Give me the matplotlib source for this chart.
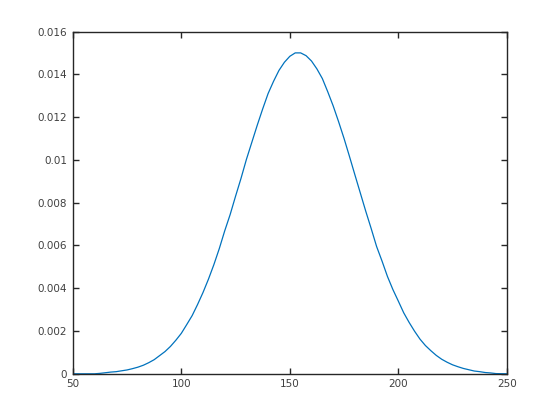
import matplotlib
matplotlib.use("Agg")
import matplotlib.pyplot as plt
from matplotlib.ticker import FuncFormatter

# values
x = [50, 55, 60, 62.5, 65, 67.5, 70, 72.5, 75, 77.5, 80, 82.5, 85, 87.5, 90,
     92.5, 95, 97.5, 100, 102.5, 105, 107.5, 110, 112.5, 115, 117.5, 120,
     122.5, 125, 127.5, 130, 132.5, 135, 137.5, 140, 142.5, 145, 147.5, 150,
     152.5, 155, 157.5, 160, 162.5, 165, 167.5, 170, 172.5, 175, 177.5, 180,
     182.5, 185, 187.5, 190, 192.5, 195, 197.5, 200, 202.5, 205, 207.5, 210,
     212.5, 215, 217.5, 220, 222.5, 225, 227.5, 230, 232.5, 235, 237.5, 240,
     242.5, 245, 250]
density = [0, 0, 0, 0.00002, 0.00005, 0.00008, 0.00010, 0.00014, 0.00018,
           0.00024, 0.00031, 0.00040, 0.00052, 0.00066, 0.00085,
           0.00104, 0.00128, 0.00157, 0.00189, 0.00230, 0.00272, 0.00324, 0.00380,
           0.00442, 0.00510, 0.00585, 0.00668,
           0.00744, 0.00830, 0.00913, 0.01002, 0.01082, 0.01162, 0.01238, 0.01310,
           0.01367, 0.01418, 0.01456, 0.01484,
           0.01500, 0.01500, 0.01487, 0.01462, 0.01425, 0.01380, 0.01318, 0.01252,
           0.01178, 0.01100, 0.01016, 0.00930,
           0.00845, 0.00760, 0.00679, 0.00595, 0.00527, 0.00455, 0.00394, 0.00340,
           0.00285, 0.00240, 0.00199, 0.00162,
           0.00132, 0.00108, 0.00086, 0.00068, 0.00054, 0.00042, 0.00033, 0.00025,
           0.00019, 0.00013, 0.00010, 0.00006,
           0.00004, 0.00001, 0]

xticks = [50, 100, 150, 200, 250]
yticks = [0, 0.002, 0.004, 0.006, 0.008, 0.01, 0.012, 0.014, 0.016]

fig = plt.figure(figsize=(5.6, 4.2), dpi=100)
ax = fig.add_axes([0.13, 0.11, 0.775, 0.815])
ax.plot(x, density, color="#0072BD", lw=0.9)

ax.set_xlim(50, 250)
ax.set_ylim(0, 0.016)
ax.set_xticks(xticks)
ax.set_yticks(yticks)
ax.yaxis.set_major_formatter(FuncFormatter(lambda v, p: "%g" % v))

ax.tick_params(direction="in", length=4, width=1, top=True, right=True,
               labelsize=7.5, colors="#262626", labelcolor="#404040", pad=4)
for s in ax.spines.values():
    s.set_color("#262626")
    s.set_linewidth(1)

fig.savefig("out.png", dpi=100)
